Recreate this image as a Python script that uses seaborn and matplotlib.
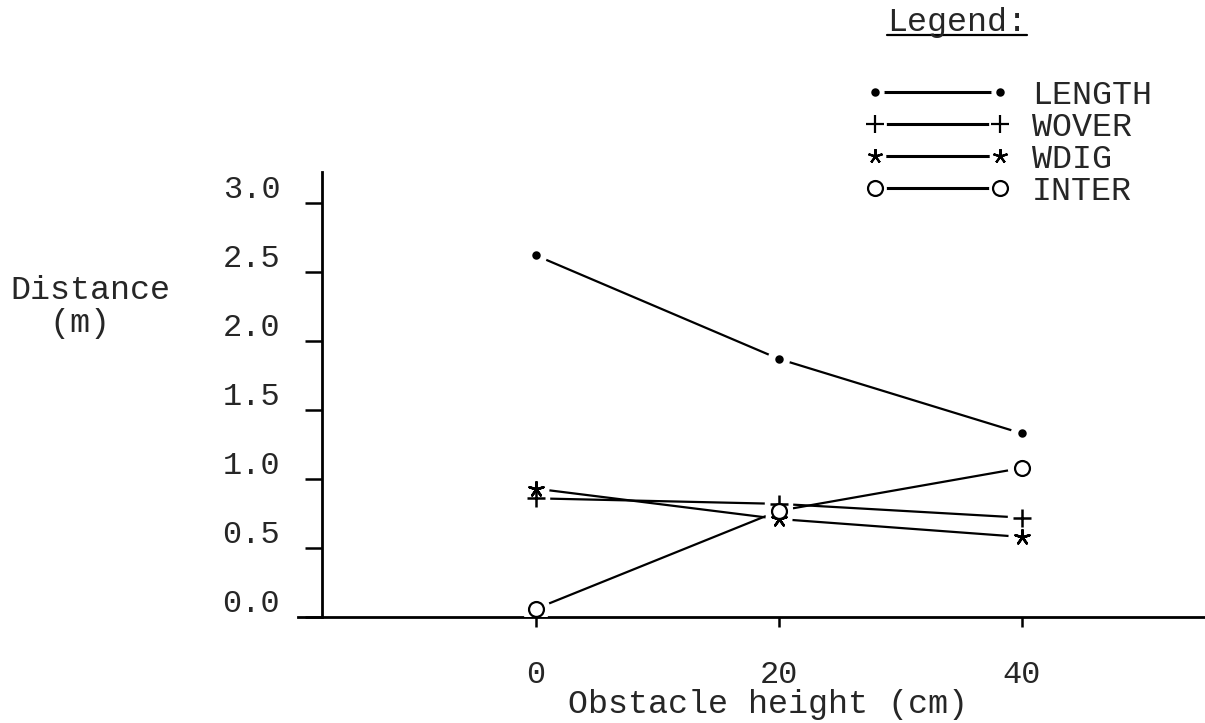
import matplotlib
matplotlib.use("Agg")
import matplotlib.pyplot as plt
import seaborn as sns
import pandas as pd
from matplotlib.lines import Line2D
from matplotlib.legend_handler import HandlerTuple
from matplotlib.transforms import ScaledTranslation

# Measured distances per obstacle height
heights = [0, 20, 40]
length = [2.62, 1.87, 1.33]
wover = [0.86, 0.82, 0.72]
wdig = [0.93, 0.71, 0.58]
inter = [0.06, 0.77, 1.08]

series_names = ["LENGTH", "WOVER", "WDIG", "INTER"]
y_ticks = [0.0, 0.5, 1.0, 1.5, 2.0, 2.5, 3.0]
y_tick_labels = ["0.0", "0.5", "1.0", "1.5", "2.0", "2.5", "3.0"]
x_ticks = [0, 20, 40]
x_tick_labels = ["0", "20", "40"]

sns.set_style("white")
plt.rcParams["font.family"] = ["Liberation Mono", "DejaVu Sans"]

values = {"LENGTH": length, "WOVER": wover, "WDIG": wdig, "INTER": inter}
df = pd.DataFrame(
    [(name, h, v) for name in series_names for h, v in zip(heights, values[name])],
    columns=["series", "height", "distance"],
)

# marker style, marker size (pt^2), halo size (pt^2)
styles = {
    "LENGTH": dict(marker="o", s=20, face="black", halo=260),
    "WOVER": dict(marker="+", s=170, face="black", halo=420),
    "WDIG": dict(marker=(5, 2, 0), s=110, face="black", halo=380),
    "INTER": dict(marker="o", s=115, face="white", halo=420),
}

W, H = 1205, 723
fig = plt.figure(figsize=(W / 100, H / 100), dpi=100)
ax = fig.add_axes([298 / W, 1 - 617 / H, (W - 298) / W, (617 - 172) / H])

px_per_unit = 12.15
ax.set_xlim((298 - 536) / px_per_unit, (1205 - 536) / px_per_unit)
ax.set_ylim(0, 3.225)

for name in series_names:
    sub = df[df["series"] == name]
    st = styles[name]
    sns.lineplot(data=sub, x="height", y="distance", ax=ax, color="black",
                 linewidth=1.6, zorder=2, legend=False)
    # white halo leaves a small gap between the line and its marker
    sns.scatterplot(data=sub, x="height", y="distance", ax=ax, color="white",
                    s=st["halo"], linewidth=0, edgecolor="none", zorder=3,
                    legend=False)
    if st["marker"] == "o":
        sns.scatterplot(data=sub, x="height", y="distance", ax=ax,
                        marker="o", s=st["s"], color=st["face"],
                        edgecolor="black", linewidth=1.6, zorder=4, legend=False)
    else:
        sns.scatterplot(data=sub, x="height", y="distance", ax=ax,
                        marker=st["marker"], s=st["s"], color="black",
                        linewidth=1.8, zorder=4, legend=False)

# axes frame: only left and bottom lines
for side in ["top", "right"]:
    ax.spines[side].set_visible(False)
ax.spines["left"].set_position(("data", (322 - 536) / px_per_unit))
ax.spines["left"].set_linewidth(2.0)
ax.spines["bottom"].set_linewidth(2.0)
ax.spines["left"].set_color("black")
ax.spines["bottom"].set_color("black")

ax.set_xticks(x_ticks)
ax.set_xticklabels(x_tick_labels)
ax.set_yticks(y_ticks)
ax.set_yticklabels(y_tick_labels)
ax.tick_params(axis="y", direction="out", length=12, width=1.8, pad=18,
               labelsize=23, left=True, color="black")
ax.tick_params(axis="x", direction="out", length=7, width=1.8, pad=24,
               labelsize=23, bottom=True, color="black")

# tick labels sit a little above their tick marks
for tick in ax.yaxis.get_major_ticks():
    tick.label1.set_transform(tick.label1.get_transform()
                              + ScaledTranslation(0, 0.17, fig.dpi_scale_trans))

ax.set_xlabel("Obstacle height (cm)", fontsize=24)
ax.xaxis.set_label_coords((768 - 298) / (W - 298), (617 - 705) / (617 - 172))
ax.xaxis.label.set_va("center")

ax.set_ylabel("Distance\n  (m)", fontsize=24, rotation=0, ha="left",
              va="center", multialignment="left", linespacing=1.1)
ax.yaxis.set_label_coords((10 - 298) / (W - 298), (617 - 307) / (617 - 172))

ax.grid(False)

# legend: marker - line - marker, then the series name
handles = []
for name in series_names:
    st = styles[name]
    line = Line2D([], [], color="black", linewidth=2.2)
    halo = Line2D([], [], linestyle="none", marker="o",
                  markersize=st["halo"] ** 0.5 * 0.75,
                  markerfacecolor="white", markeredgecolor="white")
    mk = Line2D([], [], linestyle="none", marker=st["marker"],
                markersize=st["s"] ** 0.5, color="black",
                markerfacecolor=st["face"], markeredgecolor="black",
                markeredgewidth=1.6)
    handles.append((line, halo, mk))

fig.legend(handles=handles, labels=series_names,
           handler_map={tuple: HandlerTuple(ndivide=1)},
           numpoints=2, handlelength=4.35, handletextpad=0.66,
           labelspacing=0.03, loc="upper left",
           bbox_to_anchor=(865 / W, 1 - 80 / H), borderpad=0,
           borderaxespad=0, frameon=False, fontsize=24)

title = fig.text(957 / W, 1 - 22 / H, "Legend:", ha="center", va="center",
                 fontsize=24)
fig.canvas.draw()
bb = title.get_window_extent()
fig.add_artist(Line2D([bb.x0 / W, bb.x1 / W], [(H - 35) / H, (H - 35) / H],
                      transform=fig.transFigure, color="black", linewidth=1.6))

fig.savefig("out.png", dpi=100)
